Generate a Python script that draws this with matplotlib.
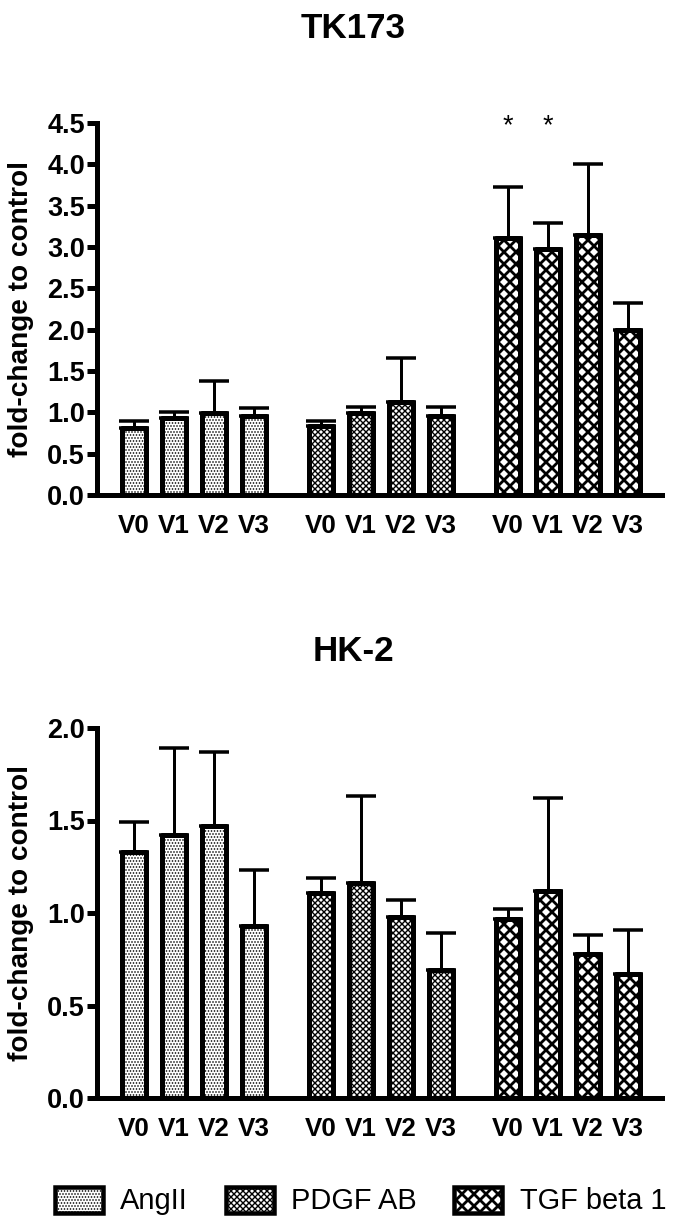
import matplotlib
matplotlib.use('Agg')
import matplotlib.pyplot as plt
from matplotlib.patches import Patch
import numpy as np

plt.rcParams['font.family'] = ['Liberation Sans', 'DejaVu Sans']

treatments = ['AngII', 'PDGF AB', 'TGF beta 1']
visits = ['V0', 'V1', 'V2', 'V3']

# TK173: mean fold-change and upper error
tk_angii = [0.81, 0.93, 0.99, 0.95]
tk_angii_err = [0.08, 0.07, 0.39, 0.10]
tk_pdgf = [0.84, 0.99, 1.12, 0.96]
tk_pdgf_err = [0.06, 0.08, 0.54, 0.10]
tk_tgf = [3.11, 2.97, 3.14, 2.00]
tk_tgf_err = [0.62, 0.32, 0.86, 0.32]
tk_sig = [[], [], [0, 1]]  # bars with a star

# HK-2
hk_angii = [1.33, 1.42, 1.47, 0.93]
hk_angii_err = [0.16, 0.47, 0.40, 0.30]
hk_pdgf = [1.11, 1.16, 0.98, 0.69]
hk_pdgf_err = [0.08, 0.47, 0.09, 0.20]
hk_tgf = [0.97, 1.12, 0.78, 0.67]
hk_tgf_err = [0.05, 0.50, 0.10, 0.24]

hatches = ['....', 'xxxx', 'xx']
hatch_lw = [1.0, 1.4, 2.8]
group_step = 4.675
bar_w = 0.62
lw = 5

W, H = 700, 1226
fig = plt.figure(figsize=(W / 72, H / 72), dpi=72)


def set_hlw(artists, g):
    for a in artists:
        if hasattr(a, 'set_hatch_linewidth'):
            a.set_hatch_linewidth(hatch_lw[g])


def panel(top_px, bot_px, means, errs, ymax, sig=None):
    ax = fig.add_axes([97 / W, 1 - bot_px / H, 565 / W, (bot_px - top_px) / H])
    xs_all = []
    for g, (vals, err) in enumerate(zip(means, errs)):
        x = g * group_step + np.arange(len(visits))
        xs_all.extend(x)
        plt.rcParams['hatch.linewidth'] = hatch_lw[g]
        bars = ax.bar(x, vals, width=bar_w, color='white', edgecolor='black',
                      linewidth=lw, hatch=hatches[g], zorder=3, joinstyle='round')
        set_hlw(bars, g)
        ax.errorbar(x, vals, yerr=[np.zeros(len(vals)), err], fmt='none',
                    ecolor='black', elinewidth=3, capsize=15, capthick=3.5,
                    zorder=2)
        if sig:
            for i in sig[g]:
                ax.text(x[i], ymax - 0.12 * ymax / 4.5, '*', ha='center',
                        va='baseline', fontsize=27, clip_on=False)
    ax.set_xlim(-0.925, 13.2)
    ax.set_ylim(0, ymax)
    ax.set_xticks(xs_all)
    ax.set_xticklabels(visits * len(means), fontsize=26, fontweight='bold')
    ax.tick_params(axis='x', length=0, pad=19)
    ax.tick_params(axis='y', length=10, width=lw, pad=2, labelsize=27)
    for s in ['top', 'right']:
        ax.spines[s].set_visible(False)
    for s in ['left', 'bottom']:
        ax.spines[s].set_linewidth(lw)
    ax.set_ylabel('fold-change to control', fontsize=28, fontweight='bold')
    ax.yaxis.set_label_coords(-0.112, 0.5)
    return ax


ax1 = panel(123, 495, [tk_angii, tk_pdgf, tk_tgf],
            [tk_angii_err, tk_pdgf_err, tk_tgf_err], 4.5, tk_sig)
ax1.set_yticks(np.arange(0, 4.51, 0.5))
ax1.set_yticklabels(['%.1f' % v for v in np.arange(0, 4.51, 0.5)], fontweight='bold')

ax2 = panel(728, 1098, [hk_angii, hk_pdgf, hk_tgf],
            [hk_angii_err, hk_pdgf_err, hk_tgf_err], 2.0)
ax2.set_yticks(np.arange(0, 2.01, 0.5))
ax2.set_yticklabels(['%.1f' % v for v in np.arange(0, 2.01, 0.5)], fontweight='bold')

fig.text(353 / W, 1 - 38 / H, 'TK173', ha='center', va='baseline',
         fontsize=35, fontweight='bold')
fig.text(353 / W, 1 - 661 / H, 'HK-2', ha='center', va='baseline',
         fontsize=35, fontweight='bold')

handles = []
for g in range(3):
    plt.rcParams['hatch.linewidth'] = hatch_lw[g]
    h = Patch(facecolor='white', edgecolor='black', linewidth=4.5,
              hatch=hatches[g])
    set_hlw([h], g)
    handles.append(h)
leg = fig.legend(handles, treatments, loc='center left',
                 bbox_to_anchor=(55 / W, 1 - 1201 / H), ncol=3, frameon=False,
                 fontsize=29, handlelength=1.65, handleheight=1.0,
                 handletextpad=0.6, columnspacing=1.3, borderpad=0,
                 borderaxespad=0)
for g, p in enumerate(leg.get_patches()):
    set_hlw([p], g)

fig.savefig('out.png', dpi=72)
